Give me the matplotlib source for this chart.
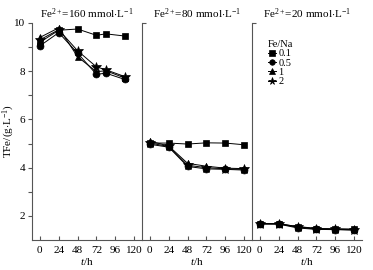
import matplotlib
matplotlib.use("Agg")
import matplotlib.pyplot as plt

plt.rcParams['font.family'] = ['Liberation Serif', 'DejaVu Serif']
plt.rcParams['mathtext.fontset'] = 'custom'
plt.rcParams['mathtext.rm'] = 'Liberation Serif'
plt.rcParams['mathtext.it'] = 'Liberation Serif:italic'
plt.rcParams['font.size'] = 8

# ---- data ----
panel_titles = [r'Fe$^{2+}$=160 mmol$\cdot$L$^{-1}$',
                r'Fe$^{2+}$=80 mmol$\cdot$L$^{-1}$',
                r'Fe$^{2+}$=20 mmol$\cdot$L$^{-1}$']
series_labels = ['0.1', '0.5', '1', '2']
markers = ['s', 'o', '^', '*']

t_160 = [0, 24, 48, 72, 84, 108]
t_80 = [0, 24, 48, 72, 96, 120]
t_20 = [0, 24, 48, 72, 96, 120]

fe160_01 = [9.20, 9.70, 9.75, 9.49, 9.55, 9.46]
fe160_05 = [9.05, 9.60, 8.75, 7.87, 7.92, 7.66]
fe160_1 = [9.40, 9.80, 8.60, 7.98, 8.02, 7.72]
fe160_2 = [9.30, 9.72, 8.85, 8.18, 8.06, 7.78]

fe80_01 = [5.02, 5.02, 4.98, 5.03, 5.02, 4.95]
fe80_05 = [4.97, 4.85, 4.05, 3.95, 3.93, 3.90]
fe80_1 = [5.10, 4.90, 4.18, 4.06, 3.98, 3.96]
fe80_2 = [5.02, 4.88, 4.10, 4.00, 3.95, 3.93]

fe20_01 = [1.68, 1.68, 1.55, 1.47, 1.46, 1.44]
fe20_05 = [1.66, 1.66, 1.50, 1.44, 1.43, 1.41]
fe20_1 = [1.69, 1.67, 1.56, 1.48, 1.46, 1.45]
fe20_2 = [1.67, 1.67, 1.53, 1.45, 1.44, 1.42]

xticks = [0, 24, 48, 72, 96, 120]
yticks = [2, 4, 6, 8, 10]
ylabel = r'TFe/(g$\cdot$L$^{-1}$)'
xlabel = r'$t$/h'

panels = [
    (t_160, [fe160_01, fe160_05, fe160_1, fe160_2]),
    (t_80, [fe80_01, fe80_05, fe80_1, fe80_2]),
    (t_20, [fe20_01, fe20_05, fe20_1, fe20_2]),
]

fig = plt.figure(figsize=(3.73, 2.70), dpi=100)
W, H = 373, 270
left_px = [32, 142, 252]
width_px = 110
bottom = 1 - 240 / H
top = 1 - 23 / H
spine_col = '#555555'

axes = []
for i, (t, ys) in enumerate(panels):
    ax = fig.add_axes([left_px[i] / W, bottom, width_px / W, top - bottom])
    axes.append(ax)
    for y, m, lab in zip(ys, markers, series_labels):
        ms = 7 if m == '*' else 5
        ax.plot(t, y, marker=m, color='black', lw=0.7, ms=ms, label=lab,
                markeredgewidth=0.5)
    ax.set_xlim(-10, 130)
    ax.set_ylim(1, 10)
    ax.set_xticks(xticks)
    for s in ['top', 'right']:
        ax.spines[s].set_visible(False)
    for s in ['left', 'bottom']:
        ax.spines[s].set_color(spine_col)
        ax.spines[s].set_linewidth(0.8)
    ax.tick_params(axis='x', direction='in', length=3, width=0.8, color=spine_col, pad=4)
    ax.set_title(panel_titles[i], fontsize=8, pad=4)
    ax.set_xlabel(xlabel, labelpad=1)
    if i == 0:
        ax.set_yticks(yticks)
        ax.set_yticks([3, 5, 7, 9], minor=True)
        ax.tick_params(axis='y', which='both', direction='out', length=3, width=0.8,
                       color=spine_col, pad=2)
        ax.set_ylabel(ylabel)
        ax.yaxis.set_label_coords(-0.135, 0.5)
    else:
        ax.set_yticks([10])
        ax.set_yticklabels([])
        ax.tick_params(axis='y', direction='in', length=3, width=0.8, color=spine_col)

leg = axes[2].legend(title='Fe/Na', loc='upper left', bbox_to_anchor=(0.08, 0.955),
                     frameon=False, fontsize=7.5, title_fontsize=7.5,
                     handlelength=0.8, handletextpad=0.2, labelspacing=0.0,
                     borderpad=0.2, markerscale=0.8)
leg._legend_box.align = 'left'

fig.savefig('out.png', dpi=100)
